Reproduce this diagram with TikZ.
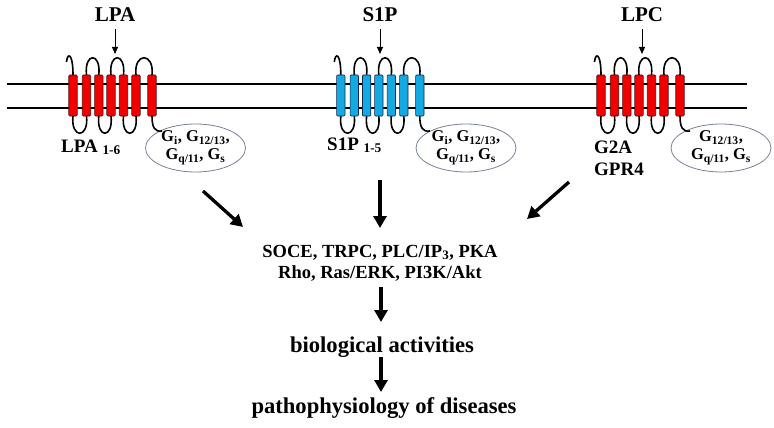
\documentclass[tikz,border=0pt]{standalone}
\usepackage{fontspec}
\setmainfont{Liberation Serif}
\usetikzlibrary{arrows.meta,shapes.geometric}
\definecolor{hred}{RGB}{240,0,0}
\definecolor{hredline}{RGB}{90,10,10}
\definecolor{hblue}{RGB}{20,170,225}
\definecolor{hblueline}{RGB}{20,40,80}
\definecolor{ellline}{RGB}{120,130,150}
\tikzset{
  memb/.style={line width=1.2pt},
  tmloop/.style={line width=1.6pt, black},
  helixred/.style={fill=hred, draw=hredline, line width=0.7pt, rounded corners=1pt},
  helixblue/.style={fill=hblue, draw=hblueline, line width=0.7pt, rounded corners=1pt},
  bigarrow/.style={line width=3.3pt, -{Triangle[length=12pt,width=13pt]}},
  smallarrow/.style={line width=1pt, -{Triangle[length=7pt,width=6pt]}},
  gprot/.style={ellipse, draw=ellline, line width=0.8pt, fill=white, inner sep=0pt, minimum width=100pt, minimum height=48pt},
  gtext/.style={font=\fontsize{16.5}{18}\selectfont\bfseries, align=center, inner sep=0pt},
  toplabel/.style={font=\fontsize{21}{24}\selectfont\bfseries, anchor=base, inner sep=0pt},
  reclabel/.style={font=\fontsize{19}{21}\selectfont\bfseries, anchor=base west, inner sep=0pt},
  pathtext/.style={font=\fontsize{18.5}{21}\selectfont\bfseries, anchor=base, inner sep=0pt},
  bigtext/.style={font=\fontsize{22.6}{26}\selectfont\bfseries, anchor=base, inner sep=0pt},
}
% #1 = x of first helix centre, #2 = helix style
\newcommand{\gpcrdraw}[2]{%
  \begin{scope}[shift={(#1,0)}]
    \def\ha{0}\def\hb{13.5}\def\hc{25.8}\def\hd{38}\def\he{50.5}\def\hf{63}\def\hg{79}
    % N-terminus
    \draw[tmloop] (-6.5,62) .. controls (-5.5,52) and (0,53) .. (\ha,75);
    % extracellular loops
    \foreach \p/\q in {\hb/\hc,\hd/\he,\hf/\hg}
      \draw[tmloop] (\p,75) .. controls (\p-2.5,52) and (\q+2.5,52) .. (\q,75);
    % intracellular loops
    \foreach \p/\q in {\ha/\hb,\hc/\hd,\he/\hf}
      \draw[tmloop] (\p,116) .. controls (\p-2.5,139) and (\q+2.5,139) .. (\q,116);
    % C-terminus
    \draw[tmloop] (\hg,116) .. controls (\hg,128) and (\hg+3,132) .. (\hg+10,131);
    % helices
    \foreach \h in {\ha,\hb,\hc,\hd,\he,\hf,\hg}
      \draw[#2] (\h-4.2,75) rectangle (\h+4.2,116);
  \end{scope}}
\begin{document}
\begin{tikzpicture}[x=1pt,y=-1pt]
  \useasboundingbox (0,0) rectangle (774,428);
  \fill[white] (0,0) rectangle (774,428);
  % membrane
  \draw[memb] (7,84) -- (747,84);
  \draw[memb] (7,108) -- (747,108);
  % G protein ellipses (behind tails)
  \node[gprot] (gA) at (195.5,148) {};
  \node[gprot] (gB) at (466,148) {};
  \node[gprot] (gC) at (721,148) {};
  % receptors
  \gpcrdraw{73}{helixred}
  \gpcrdraw{340.8}{helixblue}
  \gpcrdraw{601}{helixred}
  % ellipse texts
  \node[gtext] (tA) at (gA.center) {G\textsubscript{i}, G\textsubscript{12/13},\\G\textsubscript{q/11}, G\textsubscript{s}};
  \node[gtext] (tB) at (gB.center) {G\textsubscript{i}, G\textsubscript{12/13},\\G\textsubscript{q/11}, G\textsubscript{s}};
  \node[gtext] (tC) at (gC.center) {G\textsubscript{12/13},\\G\textsubscript{q/11}, G\textsubscript{s}};
  % ligands
  \node[toplabel] (lpa) at (115,22) {LPA};
  \node[toplabel] (s1p) at (380,22) {S1P};
  \node[toplabel] (lpc) at (642,22) {LPC};
  \coordinate (lpaE) at (115,54);
  \coordinate (s1pE) at (380,54);
  \coordinate (lpcE) at (642,54);
  \draw[smallarrow] ([yshift=-7pt]lpa.base) -- (lpaE);
  \draw[smallarrow] ([yshift=-7pt]s1p.base) -- (s1pE);
  \draw[smallarrow] ([yshift=-7pt]lpc.base) -- (lpcE);
  % receptor names
  \node[reclabel] (rA) at (61,152) {LPA \textsubscript{1-6}};
  \node[reclabel] (rB) at (327,150) {S1P \textsubscript{1-5}};
  \node[reclabel] (rC) at (594,153) {G2A};
  \node[reclabel] (rD) at (594,175) {GPR4};
  % pathways
  \node[pathtext] (p1) at (380,257) {SOCE, TRPC, PLC/IP\textsubscript{3}, PKA};
  \node[pathtext] (p2) at (380,278) {Rho, Ras/ERK, PI3K/Akt};
  \node[bigtext] (bio) at (382,352) {biological activities};
  \node[bigtext] (dis) at (384,413) {pathophysiology of diseases};
  % big arrows
  \coordinate (a1s) at (203,191);
  \coordinate (a1e) at (243,227);
  \coordinate (a2s) at (380,180);
  \coordinate (a2e) at (380,228);
  \coordinate (a3s) at (569,182);
  \coordinate (a3e) at (527,219);
  \coordinate (a4s) at (381,287);
  \coordinate (a4e) at (381,322);
  \coordinate (a5s) at (381,357);
  \coordinate (a5e) at (381,392);
  \draw[bigarrow] (a1s) -- (a1e);
  \draw[bigarrow] (a2s) -- (a2e);
  \draw[bigarrow] (a3s) -- (a3e);
  \draw[bigarrow] (a4s) -- (a4e);
  \draw[bigarrow] (a5s) -- (a5e);
\end{tikzpicture}
\end{document}
